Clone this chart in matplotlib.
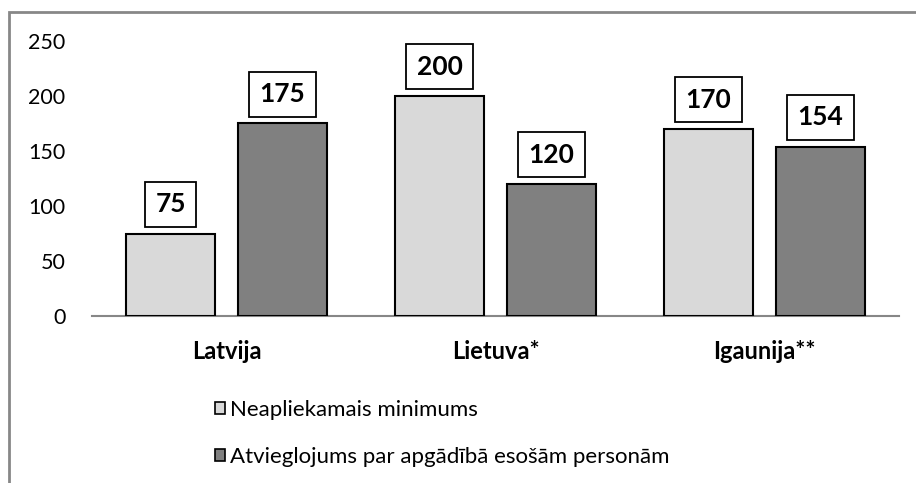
import matplotlib.pyplot as plt
import matplotlib.patches as mpatches
import numpy as np

# Values
countries = ["Latvija", "Lietuva*", "Igaunija**"]
minimums = [75, 200, 170]
dependants = [175, 120, 154]
series_names = ["Neapliekamais minimums", "Atvieglojums par apgādībā esošām personām"]
yticks = [0, 50, 100, 150, 200, 250]

light = "#D9D9D9"
dark = "#808080"
frame_grey = "#878787"

plt.rcParams["font.family"] = ["Lato", "DejaVu Sans"]

fig = plt.figure(figsize=(9.16, 4.83), dpi=100)
ax = fig.add_axes([92 / 916, 1 - 316 / 483, (899 - 92) / 916, (316 - 41) / 483])

x = np.arange(len(countries))
width = 0.33
offset = 0.208

bars1 = ax.bar(x - offset, minimums, width, color=light, edgecolor="black",
               linewidth=1.5, label=series_names[0], zorder=3)
bars2 = ax.bar(x + offset, dependants, width, color=dark, edgecolor="black",
               linewidth=1.5, label=series_names[1], zorder=3)

# boxed value labels above bars
for bars in (bars1, bars2):
    for b in bars:
        ax.annotate(f"{int(b.get_height())}",
                    (b.get_x() + b.get_width() / 2, b.get_height()),
                    xytext=(0, 12.5), textcoords="offset points",
                    ha="center", va="bottom", fontsize=19, fontweight="bold",
                    bbox=dict(boxstyle="square,pad=0.4", fc="white",
                              ec="black", lw=1.3),
                    annotation_clip=False)

ax.set_xlim(-0.5, len(countries) - 0.5)
ax.set_ylim(0, 250)
ax.set_yticks(yticks)
ax.set_xticks(x)
ax.set_xticklabels(countries, fontweight="bold", fontsize=17)
ax.tick_params(axis="y", length=0, pad=19, labelsize=15.5)
ax.tick_params(axis="x", length=0, pad=17)

for side in ("left", "right", "top"):
    ax.spines[side].set_visible(False)
ax.spines["bottom"].set_color(frame_grey)
ax.spines["bottom"].set_linewidth(1.5)

# legend below the plot, two rows
handles = [mpatches.Patch(facecolor=light, edgecolor="black", lw=1.2),
           mpatches.Patch(facecolor=dark, edgecolor="black", lw=1.2)]
fig.legend(handles, series_names, loc="upper left",
           bbox_to_anchor=(206 / 916, 1 - 391 / 483), frameon=False,
           fontsize=16, handlelength=0.45, handleheight=0.45,
           handletextpad=0.25, labelspacing=1.22, borderaxespad=0)

# chart frame (cut off on the right and bottom in the reference)
fig.add_artist(mpatches.Rectangle((9 / 916, -0.1), 1.2, 1 - 12 / 483 + 0.1,
                                  transform=fig.transFigure, fill=False,
                                  ec=frame_grey, lw=2, clip_on=False))

fig.savefig("out.png", dpi=100)
